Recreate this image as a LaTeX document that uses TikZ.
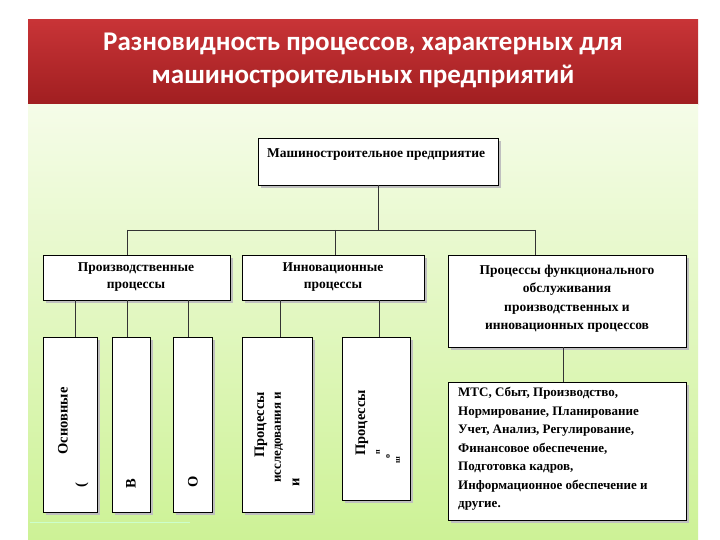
\documentclass[tikz,border=0pt]{standalone}
\usepackage{fontspec}
\setmainfont{Liberation Serif}
\newfontfamily\titlefont{Carlito}
\begin{document}
\begin{tikzpicture}[x=1pt,y=-1pt,
 bx/.style={draw=black,line width=0.8pt,fill=white},
 lbl/.style={font=\bfseries\fontsize{13.5}{17}\selectfont,align=center,inner sep=0pt},
 vt/.style={font=\bfseries\fontsize{14.5}{16}\selectfont,rotate=90,inner sep=0pt},
 sm/.style={font=\bfseries\fontsize{8}{8}\selectfont,rotate=90,inner sep=0pt},
 ln/.style={draw=black!80,line width=0.7pt}]
\useasboundingbox (0,0) rectangle (720,540);
\fill[white] (0,0) rectangle (720,540);
\shade[top color={rgb,255:red,200;green,52;blue,55},bottom color={rgb,255:red,160;green,30;blue,32}] (28,20) rectangle (698,105);
\shade[top color={rgb,255:red,245;green,252;blue,232},bottom color={rgb,255:red,205;green,242;blue,150}] (28,105) rectangle (698,540);
\node[font=\titlefont\bfseries\fontsize{27}{33}\selectfont,text=white,align=center] (title) at (363,60) {Разновидность процессов, характерных для\\машиностроительных предприятий};
% shadows
\foreach \a/\b/\c/\d in {258/138/498/185,43/255/230/300,242/255/424/300,448/255/686/347,43/337/97/512,112/337/150/512,173/337/212/512,242/337/312/512,342/337/410/500,448/382/686/520}
  \fill[black!25] (\a+3,\b+3) rectangle (\c+3,\d+3);
\draw[bx] (258,138) rectangle (498,185);
\node[lbl,anchor=west] (top) at (267,155) {Машиностроительное предприятие};
\coordinate (tb) at (378,185);
\draw[bx] (43,255) rectangle (230,300);
\node[lbl] (p1) at (136,277) {Производственные\\процессы};
\draw[bx] (242,255) rectangle (424,300);
\node[lbl] (p2) at (333,277) {Инновационные\\процессы};
\draw[bx] (448,255) rectangle (686,347);
\node[lbl,font=\bfseries\fontsize{13.5}{18.5}\selectfont] (p3) at (567,299) {Процессы функционального\\обслуживания\\производственных и\\инновационных процессов};
\draw[ln] (tb) -- (378,230) (127,230) -- (535,230) (127,230) -- (127,255) (335,230) -- (335,255) (535,230) -- (535,255);
\draw[ln] (75,300) -- (75,337) (127,300) -- (127,337) (188,300) -- (188,337) (280,300) -- (280,337) (379,300) -- (379,337) (563,347) -- (563,382);
\draw[bx] (43,337) rectangle (97,512);
\draw[bx] (112,337) rectangle (150,512);
\draw[bx] (173,337) rectangle (212,512);
\draw[bx] (242,337) rectangle (312,512);
\draw[bx] (342,337) rectangle (410,500);
\draw[bx] (448,382) rectangle (686,520);
\node[vt] (v1) at (63,421) {Основные};
\node[vt] (v1b) at (82,485) {(};
\node[vt] (v2) at (131,484) {В};
\node[vt] (v3) at (193,482) {О};
\node[vt,anchor=west] (v4a) at (261,458) {Процессы};
\node[vt,anchor=west,font=\bfseries\fontsize{13}{14}\selectfont] (v4b) at (279,483) {исследования и};
\node[vt] (v4c) at (296,482) {и};
\node[vt,anchor=west] (v5) at (362,456) {Процессы};
\node[sm] (v5b) at (378,452) {п};
\node[sm] (v5c) at (388,456) {о};
\node[sm] (v5d) at (398,460) {ш};
\node[lbl,align=left,anchor=north west,font=\bfseries\fontsize{13}{18.5}\selectfont] (list) at (458,387) {МТС, Сбыт, Производство,\\Нормирование, Планирование\\Учет, Анализ, Регулирование,\\Финансовое обеспечение,\\Подготовка кадров,\\Информационное обеспечение и\\другие.};
\draw[white!80!green,line width=1pt] (30,522) -- (190,522);
\end{tikzpicture}
\end{document}
